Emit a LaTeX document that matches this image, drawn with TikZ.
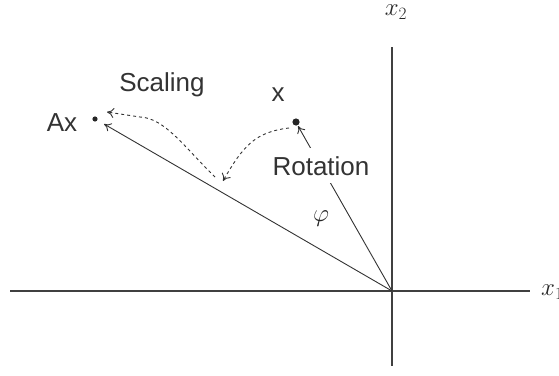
\documentclass[tikz,border=0pt]{standalone}
\usepackage{fontspec}
\setmainfont{Liberation Sans}
\usetikzlibrary{arrows.meta}
\begin{document}
\begin{tikzpicture}[x=1pt,y=-1pt,
  axisline/.style={line width=1.6pt,black!75},
  vec/.style={line width=0.9pt,black!80,-{To[length=7pt,width=9pt]}},
  dashcurve/.style={line width=0.9pt,black!80,dash pattern=on 3pt off 3pt,-{To[length=7pt,width=10pt]}},
  lbl/.style={font=\fontsize{26}{30}\selectfont,text=black!80,inner sep=0pt},
  mlbl/.style={font=\fontsize{26}{30}\selectfont,text=black!85,inner sep=0pt}]
\useasboundingbox (0,0) rectangle (559,375);
% axes
\coordinate (O) at (392,291);
\coordinate (xl) at (10,291);
\coordinate (xr) at (530,291);
\coordinate (yt) at (392,47);
\coordinate (yb) at (392,366);
\draw[axisline] (xl) -- (xr);
\draw[axisline] (yt) -- (yb);
\node[mlbl,anchor=west] (x1) at (541,292) {$x_1$};
\node[mlbl,anchor=north] (x2) at (396,5) {$x_2$};
% points
\coordinate (X) at (296,122);
\coordinate (A) at (95,119);
\coordinate (Xtip) at (298,126);
\coordinate (Atip) at (104,124);
\fill[black!85] (X) circle (3.6);
\fill[black!85] (A) circle (2.6);
% vectors
\draw[vec] (O) -- (Atip);
\draw[vec] (O) -- (Xtip);
\node[lbl,fill=white,inner ysep=8pt,inner xsep=1pt,anchor=base] (rot) at (321,175) {Rotation};
\node[lbl,anchor=base] (scl) at (162,91) {Scaling};
\node[lbl,anchor=base] (xlab) at (278,101) {x};
\node[lbl,anchor=base] (axlab) at (62,131) {Ax};
\node[mlbl] (phi) at (321,219) {$\varphi$};
% rotation curve
\coordinate (r0) at (289,128);
\coordinate (r1) at (223,181);
\draw[dashcurve] (r0) .. controls (255,132) and (243,146) .. (r1);
% scaling curve
\coordinate (s0) at (215,177);
\coordinate (s1) at (107,112);
\draw[dashcurve] (s0) .. controls (185,148) and (165,118) .. (140,117) -- (s1);
\end{tikzpicture}
\end{document}
